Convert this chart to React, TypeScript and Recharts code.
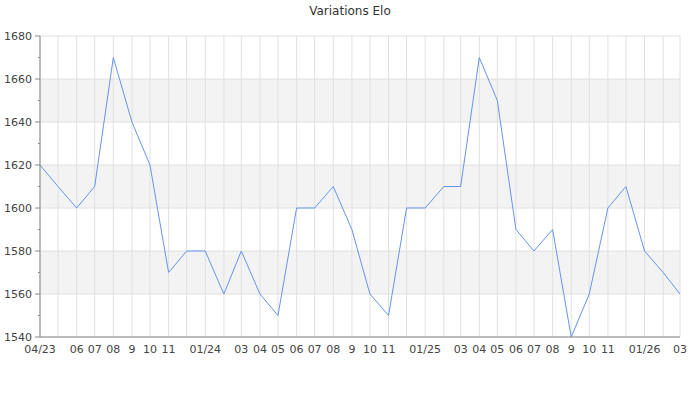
import React from 'react';
import { LineChart, Line, XAxis, YAxis, CartesianGrid } from 'recharts';

const months = [
  '2023-04', '2023-05', '2023-06', '2023-07', '2023-08', '2023-09', '2023-10', '2023-11', '2023-12',
  '2024-01', '2024-02', '2024-03', '2024-04', '2024-05', '2024-06', '2024-07', '2024-08', '2024-09',
  '2024-10', '2024-11', '2024-12', '2025-01', '2025-02', '2025-03', '2025-04', '2025-05', '2025-06',
  '2025-07', '2025-08', '2025-09', '2025-10', '2025-11', '2025-12', '2026-01', '2026-02', '2026-03',
];

const elo = [
  1620, 1610, 1600, 1610, 1670, 1640, 1620, 1570, 1580,
  1580, 1560, 1580, 1560, 1550, 1600, 1600, 1610, 1590,
  1560, 1550, 1600, 1600, 1610, 1610, 1670, 1650, 1590,
  1580, 1590, 1540, 1560, 1600, 1610, 1580, 1570, 1560,
];

// empty strings = labels the original drops because they would overlap
const tickLabels = [
  '04/23', '', '06', '07', '08', '9', '10', '11', '',
  '01/24', '', '03', '04', '05', '06', '07', '08', '9',
  '10', '11', '', '01/25', '', '03', '04', '05', '06',
  '07', '08', '9', '10', '11', '', '01/26', '', '03',
];

const yDomain = [1540, 1680];
const yMajor = [1540, 1560, 1580, 1600, 1620, 1640, 1660, 1680];
const yAll = [1540, 1550, 1560, 1570, 1580, 1590, 1600, 1610, 1620, 1630, 1640, 1650, 1660, 1670, 1680];

const toTime = (m: string) => {
  const [y, mo] = m.split('-').map(Number);
  return Date.UTC(y, mo - 1, 1);
};

const times = months.map(toTime);
const data = months.map((m, i) => ({ t: times[i], elo: elo[i] }));

const FONT = '"DejaVu Sans", Verdana, sans-serif';

const YTick = (props: any) => {
  const { x, y, payload } = props;
  const major = payload.value % 20 === 0;
  return (
    <g>
      <line x1={x - (major ? 5 : 2)} x2={x} y1={y} y2={y} stroke="#888" />
      {major && (
        <text x={x - 8} y={y} dy={4} textAnchor="end" fontSize={11} fill="#444" fontFamily={FONT}>
          {payload.value}
        </text>
      )}
    </g>
  );
};

// grid only on the labelled (every 20) values
const majorGrid = ({ yAxis, offset }: any) =>
  yMajor.map((v) => {
    if (yAxis && typeof yAxis.scale === 'function') return yAxis.scale(v);
    return offset.top + ((yDomain[1] - v) / (yDomain[1] - yDomain[0])) * offset.height;
  });

export default function App() {
  return (
    <div style={{ position: 'absolute', left: 0, top: 0, width: 700, height: 400, background: '#fff' }}>
      <div
        style={{
          position: 'absolute',
          top: 4,
          width: 700,
          textAlign: 'center',
          fontFamily: FONT,
          fontSize: 12,
          color: '#333',
        }}
      >
        Variations Elo
      </div>
      <LineChart width={700} height={400} data={data} margin={{ top: 36, right: 20, bottom: 33, left: 0 }}>
        <CartesianGrid
          stroke="#e0e0e0"
          horizontalFill={['#ffffff', '#f3f3f3']}
          horizontalCoordinatesGenerator={majorGrid}
        />
        <XAxis
          dataKey="t"
          type="number"
          scale="time"
          domain={[times[0], times[times.length - 1]]}
          ticks={times}
          interval={0}
          tickFormatter={(v: number) => tickLabels[times.indexOf(v)] ?? ''}
          tickLine={false}
          axisLine={{ stroke: '#888' }}
          height={30}
          tick={{ fontSize: 11, fill: '#444', fontFamily: FONT }}
        />
        <YAxis
          domain={yDomain}
          ticks={yAll}
          interval={0}
          width={40}
          tickSize={0}
          tickMargin={0}
          tickLine={false}
          axisLine={{ stroke: '#888' }}
          tick={<YTick />}
        />
        <Line
          type="linear"
          dataKey="elo"
          stroke="#6495ED"
          strokeWidth={1}
          dot={false}
          isAnimationActive={false}
        />
      </LineChart>
    </div>
  );
}
